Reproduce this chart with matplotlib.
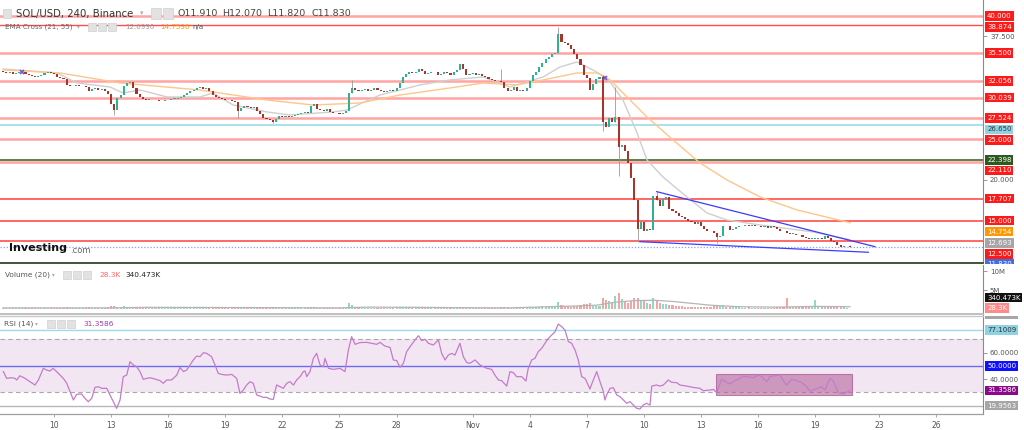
import matplotlib.pyplot as plt
from matplotlib.patches import Rectangle
from matplotlib.transforms import Bbox, TransformedBbox

plt.rcParams['font.family'] = ['DejaVu Sans']

W, H = 1024, 430

# ---------------- data ----------------
# 4h bars, first bar Oct 7 08:00. x axis in days, Oct 1 00:00 = 0
first_bar_day = 6 + 8 / 24
first_open = 33.3
closes = [
    33.2, 33.0, 33.1, 32.9,                # Oct 7
    33.0, 33.2, 33.1, 32.9, 32.8, 32.7,    # Oct 8
    32.6, 32.7, 32.8, 33.0, 33.1, 33.0,    # Oct 9
    32.9, 32.6, 32.4, 32.3, 31.6, 31.4,    # Oct 10
    31.5, 31.6, 31.4, 31.5, 31.3, 30.8,    # Oct 11
    31.1, 31.2, 31.0, 31.1, 30.9, 30.5,    # Oct 12
    29.2, 28.5, 30.0, 30.4, 31.5, 31.8,    # Oct 13
    31.9, 31.2, 30.5, 30.1, 29.9, 29.8,    # Oct 14
    29.8, 29.7, 29.7, 29.6, 29.6, 29.7,    # Oct 15
    29.8, 29.9, 29.9, 30.0, 30.1, 30.3,    # Oct 16
    30.6, 30.8, 31.0, 31.2, 31.3, 31.1,    # Oct 17
    31.2, 30.9, 30.3, 30.1, 30.0, 29.9,    # Oct 18
    29.8, 29.7, 29.6, 29.5, 28.4, 28.8,    # Oct 19
    29.0, 28.9, 28.8, 28.9, 28.4, 28.0,    # Oct 20
    27.6, 27.4, 27.3, 27.1, 27.4, 27.8,    # Oct 21
    27.7, 27.8, 27.7, 27.8, 27.9, 28.0,    # Oct 22
    28.1, 28.3, 28.2, 29.0, 29.3, 28.6,    # Oct 23
    28.5, 28.4, 28.6, 28.3, 28.2, 28.1,    # Oct 24
    28.0, 28.2, 28.4, 30.6, 31.2, 31.0,    # Oct 25
    30.9, 31.0, 31.1, 30.9, 31.0, 31.2,    # Oct 26
    31.0, 30.8, 30.7, 30.9, 31.0, 30.8,    # Oct 27
    31.2, 31.8, 32.5, 32.9, 33.1, 33.0,    # Oct 28
    33.2, 33.5, 33.3, 32.9, 33.0, 33.2,    # Oct 29
    33.1, 32.8, 32.9, 33.1, 33.0, 32.8,    # Oct 30
    33.1, 33.4, 34.1, 33.5, 32.8, 32.9,    # Oct 31
    33.0, 32.8, 32.9, 32.7, 32.5, 32.3,    # Nov 1
    32.2, 32.0, 32.1, 31.9, 31.2, 30.9,    # Nov 2
    31.0, 31.3, 30.8, 31.0, 30.9, 31.2,    # Nov 3
    32.0, 32.8, 33.2, 33.8, 34.3, 34.7,    # Nov 4
    35.0, 35.3, 35.5, 37.8, 36.8, 36.7,    # Nov 5
    36.5, 36.0, 35.4, 34.8, 34.0, 32.8,    # Nov 6
    32.4, 31.0, 31.7, 32.3, 32.5, 27.0,    # Nov 7
    26.5, 27.6, 27.0, 27.7, 24.0, 24.3,    # Nov 8
    23.5, 22.0, 20.2, 17.5, 14.0, 14.8,    # Nov 9
    13.8, 14.0, 13.9, 18.0, 17.5, 16.8,    # Nov 10
    17.6, 17.9, 16.4, 16.2, 15.9, 15.6,    # Nov 11
    15.4, 15.2, 15.0, 14.9, 14.6, 14.8,    # Nov 12
    14.3, 14.0, 13.8, 13.7, 13.5, 13.0,    # Nov 13
    13.1, 14.4, 14.3, 13.9, 14.0, 14.2,    # Nov 14
    14.3, 14.4, 14.5, 14.4, 14.5, 14.4,    # Nov 15
    14.3, 14.2, 14.3, 14.1, 14.3, 14.2,    # Nov 16
    14.0, 13.8, 13.7, 13.5, 13.4, 13.4,    # Nov 17
    13.3, 13.2, 13.0, 12.9, 12.8, 12.8,    # Nov 18
    12.8, 12.9, 12.8, 13.1, 12.9, 12.5,    # Nov 19
    12.4, 12.0, 11.8, 11.9, 11.91, 11.83,  # Nov 20
]
# wick extremes that stick out of the bodies (bar index -> price)
wick_high = {110: 32.2, 157: 33.5, 175: 38.7, 193: 31.3, 206: 18.5, 267: 12.07}
wick_low = {35: 27.9, 74: 27.6, 85: 26.9, 189: 26.0, 194: 20.5, 200: 12.4,
            225: 12.3, 267: 11.82}

volume_m = [
    0.3, 0.2, 0.2, 0.3,
    0.2, 0.3, 0.2, 0.2, 0.3, 0.2,
    0.2, 0.2, 0.3, 0.3, 0.2, 0.2,
    0.2, 0.3, 0.3, 0.2, 0.5, 0.3,
    0.2, 0.2, 0.3, 0.2, 0.3, 0.4,
    0.3, 0.2, 0.2, 0.2, 0.3, 0.4,
    0.8, 0.9, 0.6, 0.5, 0.7, 0.5,
    0.4, 0.4, 0.5, 0.3, 0.3, 0.2,
    0.2, 0.2, 0.2, 0.3, 0.2, 0.2,
    0.2, 0.2, 0.2, 0.2, 0.3, 0.3,
    0.3, 0.3, 0.3, 0.3, 0.2, 0.3,
    0.2, 0.3, 0.4, 0.3, 0.2, 0.2,
    0.2, 0.2, 0.2, 0.3, 0.6, 0.4,
    0.3, 0.2, 0.2, 0.2, 0.3, 0.4,
    0.4, 0.3, 0.3, 0.4, 0.3, 0.3,
    0.2, 0.2, 0.2, 0.2, 0.2, 0.2,
    0.2, 0.3, 0.2, 0.5, 0.4, 0.3,
    0.2, 0.2, 0.2, 0.2, 0.2, 0.2,
    0.2, 0.2, 0.3, 1.6, 1.0, 0.6,
    0.4, 0.3, 0.3, 0.3, 0.3, 0.3,
    0.3, 0.3, 0.3, 0.2, 0.3, 0.3,
    0.4, 0.5, 0.6, 0.5, 0.4, 0.3,
    0.4, 0.5, 0.4, 0.3, 0.3, 0.3,
    0.3, 0.3, 0.2, 0.3, 0.2, 0.2,
    0.3, 0.4, 0.6, 0.4, 0.3, 0.2,
    0.3, 0.2, 0.2, 0.2, 0.2, 0.3,
    0.2, 0.2, 0.2, 0.5, 0.4, 0.4,
    0.3, 0.3, 0.3, 0.2, 0.2, 0.3,
    0.5, 0.6, 0.5, 0.6, 0.7, 0.6,
    0.7, 0.6, 0.8, 1.8, 1.0, 0.7,
    0.7, 0.6, 0.8, 0.9, 1.0, 1.4,
    1.2, 1.5, 0.9, 0.8, 0.7, 3.0,
    2.5, 2.0, 1.6, 3.3, 4.2, 2.6,
    1.8, 1.6, 2.2, 2.8, 3.0, 2.0,
    2.4, 1.6, 1.4, 3.0, 2.2, 1.5,
    1.4, 1.2, 1.1, 1.0, 0.8, 0.8,
    0.7, 0.6, 0.6, 0.5, 0.6, 0.5,
    0.6, 0.5, 0.5, 0.6, 0.7, 0.9,
    0.7, 1.0, 0.6, 0.5, 0.4, 0.4,
    0.4, 0.3, 0.3, 0.4, 0.3, 0.3,
    0.3, 0.3, 0.3, 0.3, 0.3, 0.3,
    0.4, 0.5, 0.4, 2.9, 0.6, 0.4,
    0.4, 0.5, 0.5, 0.4, 0.4, 0.5,
    2.5, 0.5, 0.4, 0.5, 0.4, 0.6,
    0.6, 0.8, 0.6, 0.4, 0.3, 0.0283,
]
vol_ma_day = [6.33, 12.0, 14.0, 24.0, 25.5, 28.0, 30.0, 33.0, 35.0, 36.5, 37.5,
              38.5, 39.5, 40.5, 41.5, 42.5, 43.5, 45.0, 47.0, 49.0, 50.83]
vol_ma_val = [0.3, 0.3, 0.45, 0.3, 0.5, 0.45, 0.35, 0.3, 0.6, 0.8, 1.0,
              1.8, 2.2, 2.3, 2.0, 1.5, 1.0, 0.6, 0.5, 0.7, 0.6]

ema21_day = [6.33, 9.16, 10.21, 11.94, 12.63, 13.52, 14.94, 16.67, 17.35, 18.41,
             20.19, 21.40, 23.66, 24.40, 25.08, 26.13, 28.23, 29.81, 31.54, 32.96,
             34.70, 35.59, 36.48, 37.32, 38.06, 38.90, 39.64, 40.16, 41.00, 42.26,
             43.31, 44.36, 46.10, 48.88, 50.83]
ema21_val = [33.53, 33.04, 31.82, 31.33, 30.60, 30.96, 30.11, 30.11, 30.60, 29.13,
             28.28, 27.91, 28.28, 28.52, 29.26, 30.35, 31.58, 32.19, 32.55, 31.33,
             32.55, 33.77, 34.38, 33.41, 32.43, 29.74, 25.71, 22.42, 20.34, 17.90,
             15.95, 15.09, 14.48, 13.63, 12.693]
ema55_day = [6.33, 9.32, 12.47, 16.67, 20.19, 22.61, 25.08, 27.18, 29.81, 31.54,
             33.33, 34.70, 36.48, 37.53, 38.22, 39.27, 40.16, 41.53, 42.95, 44.36,
             46.10, 48.05, 49.78, 50.83]
ema55_val = [33.41, 33.04, 31.82, 30.96, 29.74, 29.13, 29.38, 30.35, 31.21, 31.82,
             31.58, 32.19, 33.04, 33.04, 32.19, 29.74, 27.67, 24.86, 22.05, 19.98,
             17.90, 16.31, 15.34, 14.754]
cross_day = [7.30, 37.95]
cross_val = [33.2, 32.4]

# falling wedge drawn on the chart
wedge_top_day, wedge_top_val = [40.67, 52.14], [18.55, 11.83]
wedge_bot_day, wedge_bot_val = [39.79, 51.79], [12.44, 11.15]

rsi_day = [6.34, 6.51, 6.77, 6.95, 7.04, 7.21, 7.48, 7.74, 8.00, 8.18, 8.44, 8.61, 8.79,
           8.96, 9.23, 9.49, 9.67, 9.84, 10.02, 10.19, 10.45, 10.63, 10.80, 10.98,
           11.15, 11.33, 11.50, 11.77, 11.94, 12.12, 12.29, 12.47, 12.64, 12.82,
           12.99, 13.17, 13.34, 13.52, 13.69, 13.87, 14.04, 14.31, 14.57, 14.74,
           14.92, 15.18, 15.45, 15.62, 15.80, 15.97, 16.15, 16.32, 16.50, 16.67,
           16.85, 17.02, 17.28, 17.46, 17.63, 17.81, 18.07, 18.34, 18.60, 18.77,
           18.95, 19.12, 19.30, 19.47, 19.65, 19.82, 20.00, 20.17, 20.35, 20.53,
           20.61, 20.70, 20.88, 21.05, 21.23, 21.40, 21.58, 21.75, 21.93, 22.10,
           22.19, 22.28, 22.45, 22.63, 22.80, 22.98, 23.15, 23.24, 23.42, 23.68,
           24.03, 24.29, 24.47, 24.64, 24.82, 25.08, 25.43, 25.69, 25.96, 26.13,
           26.39, 26.66, 26.83, 27.01, 27.18, 27.36, 27.53, 27.71, 27.97, 28.15,
           28.32, 28.50, 28.67, 28.93, 29.20, 29.37, 29.55, 29.72, 29.90, 30.07,
           30.33, 30.51, 30.69, 30.86, 31.12, 31.39, 31.56, 31.74, 32.00, 32.17,
           32.35, 32.52, 32.79, 32.96, 33.14, 33.31, 33.58, 33.80, 33.92, 34.10,
           34.27, 34.45, 34.63, 34.80, 34.98, 35.15, 35.33, 35.50, 35.68, 35.85,
           36.03, 36.20, 36.38, 36.55, 36.73, 36.90, 36.99, 37.16, 37.34, 37.52,
           37.69, 37.87, 37.95, 38.04, 38.22, 38.39, 38.57, 38.74, 38.92, 39.09,
           39.27, 39.44, 39.62, 39.79, 39.97, 40.14, 40.32, 40.41, 40.67, 40.84,
           41.02, 41.28, 41.46, 41.72, 41.89, 42.24, 42.59, 42.94, 43.12, 43.47,
           43.65, 43.82, 44.08, 44.35, 44.52, 44.78, 45.05, 45.22, 45.40, 45.75,
           46.01, 46.19, 46.45, 46.62, 46.89, 47.15, 47.41, 47.50, 47.76, 48.03,
           48.29, 48.46, 48.73, 48.99, 49.34, 49.51, 49.78, 49.95, 50.21, 50.48,
           50.65, 50.83]
rsi_val = [45.6, 40.5, 41.0, 40.5, 39.3, 42.5, 40.5, 38.0, 35.5, 39.3, 48.1, 46.8, 46.1,
           48.1, 44.3, 40.5, 36.8, 30.5, 24.2, 28.5, 28.7, 25.4, 22.9, 25.4,
           33.7, 34.2, 33.0, 33.0, 28.0, 22.9, 17.9, 24.2, 41.8, 43.0,
           53.1, 50.6, 49.3, 45.6, 39.8, 40.5, 41.0, 40.0, 38.8, 36.8,
           39.3, 39.3, 43.0, 48.8, 45.6, 46.8, 50.6, 54.4, 57.4, 56.9,
           59.9, 59.4, 56.9, 50.6, 44.3, 43.5, 43.0, 43.5, 40.5, 29.2,
           31.7, 35.5, 38.0, 36.8, 28.0, 27.2, 26.2, 26.2, 24.9, 24.7,
           30.5, 35.5, 34.2, 33.0, 36.8, 38.0, 35.5, 39.3, 41.8, 45.6,
           46.1, 41.8, 45.6, 55.6, 59.4, 50.6, 49.3, 55.6, 48.1, 47.3,
           48.1, 45.6, 61.9, 72.0, 66.2, 67.5, 67.7, 67.0, 66.2, 67.7,
           64.9, 63.9, 54.4, 53.9, 48.8, 51.9, 60.7, 64.4, 69.5, 72.7,
           69.0, 70.0, 67.0, 65.7, 69.5, 59.4, 54.4, 58.1, 59.4, 58.1,
           67.0, 56.9, 52.4, 51.9, 54.4, 50.6, 49.3, 48.1, 47.3, 43.0,
           39.3, 38.8, 34.7, 45.6, 44.8, 41.8, 41.8, 38.5, 48.1, 54.4,
           55.6, 60.7, 63.2, 67.0, 70.7, 73.2, 75.8, 81.5, 79.5, 77.0,
           68.2, 67.0, 61.9, 54.4, 41.8, 40.5, 38.0, 32.5, 39.3, 45.6,
           38.0, 30.5, 24.2, 28.0, 33.0, 33.5, 28.0, 26.7, 24.2, 21.7,
           22.9, 20.4, 17.9, 17.4, 20.4, 21.7, 20.4, 34.7, 35.5, 34.7,
           35.5, 39.3, 37.5, 37.3, 35.5, 34.7, 33.7, 33.0, 31.2, 31.7,
           32.2, 29.7, 39.8, 37.5, 36.3, 38.8, 40.5, 42.3, 41.8, 41.0,
           43.0, 41.8, 38.0, 41.8, 42.5, 43.0, 36.8, 35.5, 39.8, 38.8,
           37.3, 35.5, 31.0, 32.2, 34.2, 31.7, 40.5, 38.5, 29.7, 28.7,
           30.0, 31.3586]
rsi_box_day = [43.79, 50.93]
rsi_box_val = [28.2, 43.8]

# horizontal levels: (price, line colour, line width, label bg, label text colour, label shift px)
levels = [
    (40.000, '#ffa3a3', 1.8, '#ff1a1a', 'white', 0),
    (38.874, '#ff4d4d', 1.0, '#ff1a1a', 'white', 2),
    (35.500, '#ffa3a3', 1.8, '#ff1a1a', 'white', 0),
    (32.056, '#ffa3a3', 1.8, '#ff1a1a', 'white', 0),
    (30.039, '#ffa3a3', 1.8, '#ff1a1a', 'white', 0),
    (27.524, '#ffa3a3', 1.8, '#ff1a1a', 'white', 0),
    (26.650, '#9adbe8', 1.2, '#8fd3e3', '#333333', 4),
    (25.000, '#ffa3a3', 1.8, '#ff1a1a', 'white', 1),
    (22.398, '#3f6b2f', 1.2, '#2f5a1f', 'white', 0),
    (22.110, '#ffa3a3', 1.8, '#ff1a1a', 'white', 8),
    (17.707, '#ff4d4d', 1.2, '#ff1a1a', 'white', 0),
    (15.000, '#ff4d4d', 1.2, '#ff1a1a', 'white', 0),
    (12.500, '#ff4d4d', 1.2, '#ff1a1a', 'white', 13),
]
last_close = 11.83

date_ticks = [9, 12, 15, 18, 21, 24, 27, 31, 34, 37, 40, 43, 46, 49, 52.35, 55.35]
date_labels = ['10', '13', '16', '19', '22', '25', '28', 'Nov', '4', '7', '10', '13',
               '16', '19', '23', '26']

# ---------------- figure ----------------
fig = plt.figure(figsize=(W / 100, H / 100), dpi=100)


def px_axes(top, bottom):
    return fig.add_axes([0, 1 - bottom / H, 983 / W, (bottom - top) / H])


ax_p = px_axes(0, 262)
ax_v = px_axes(265, 313)
ax_r = px_axes(315, 414)

x0 = 6.162
x1 = x0 + 983 / 19.03
for ax in (ax_p, ax_v, ax_r):
    ax.set_xlim(x0, x1)
    for s in ('top', 'left', 'bottom'):
        ax.spines[s].set_visible(False)
    ax.spines['right'].set_color('#8a8a8a')
    ax.yaxis.tick_right()
    ax.tick_params(axis='y', length=3, width=0.6, color='#888888', labelsize=5,
                   labelcolor='#555555', pad=2)
    ax.set_xticks([])

ax_p.set_ylim(9.96, 41.95)
ax_v.set_ylim(-1.05, 11.58)
ax_r.set_ylim(13.62, 88.34)

# candles
opens = [first_open] + closes[:-1]
xs = [first_bar_day + i / 6 for i in range(len(closes))]
up_c, dn_c = '#2db394', '#a8352c'
for i, (x, o, c) in enumerate(zip(xs, opens, closes)):
    hi = wick_high.get(i, max(o, c))
    lo = wick_low.get(i, min(o, c))
    col = up_c if c >= o else dn_c
    if hi > max(o, c) or lo < min(o, c):
        ax_p.vlines(x, lo, hi, color='#9a9a9a', lw=0.6, zorder=3)
    h = c - o if abs(c - o) > 0.05 else 0.05
    ax_p.bar(x, h, bottom=o, width=0.11, color=col, lw=0, zorder=4)

ax_p.plot(ema21_day, ema21_val, color='#cfcfcf', lw=1.0, zorder=2)
ax_p.plot(ema55_day, ema55_val, color='#ffc68a', lw=1.0, zorder=2)
ax_p.plot(cross_day, cross_val, ls='none', marker='x', ms=3.5, mew=1.2,
          color='#6a5acd', zorder=5)

for price, lc, lw, fc, tc, dy in levels:
    ax_p.axhline(price, color=lc, lw=lw, zorder=1)
ax_p.axhline(last_close, color='#8c9eff', lw=0.9, ls=(0, (1, 1.5)), zorder=1)

ax_p.plot(wedge_top_day, wedge_top_val, color='#3c3cff', lw=0.9, zorder=6)
ax_p.plot(wedge_bot_day, wedge_bot_val, color='#3c3cff', lw=0.9, zorder=6)

ax_p.set_yticks([37.5, 20.0])
ax_p.set_yticklabels(['37.500', '20.000'])


def rlabel(ax, y, text, fc, tc='white', dy=0, clip_top=None, clip_bottom=None):
    t = ax.annotate(text, xy=(1, y), xycoords=ax.get_yaxis_transform(),
                    xytext=(3, -dy * 0.72), textcoords='offset points',
                    ha='left', va='center', fontsize=5, color=tc,
                    annotation_clip=False, zorder=10,
                    bbox=dict(boxstyle='square,pad=0.25', fc=fc, ec='none'))
    if clip_top is not None:
        bb = TransformedBbox(Bbox([[0, 1 - clip_bottom / H], [1, 1 - clip_top / H]]),
                             fig.transFigure)
        t.set_clip_box(bb)
        t.set_clip_on(True)
    return t


for price, lc, lw, fc, tc, dy in levels:
    rlabel(ax_p, price, f'{price:.3f}', fc, tc, dy)
rlabel(ax_p, 14.754, '14.754', '#ff9800', 'white', 9)
rlabel(ax_p, 12.693, '12.693', '#a6a6a6', 'white', 3.5)
rlabel(ax_p, last_close, '11.830', '#3f6fe0', 'white', 17, clip_top=0, clip_bottom=263.5)

# panel separators
fig.add_artist(plt.Line2D([0, 983 / W], [1 - 262.5 / H] * 2, color='#2f4a26', lw=1.3))
fig.add_artist(plt.Line2D([0, 983 / W], [1 - 313.5 / H] * 2, color='#b5b5b5', lw=1.2))
fig.add_artist(plt.Line2D([0, 983 / W], [1 - 315.5 / H] * 2, color='#c8c8c8', lw=1.0))
fig.add_artist(plt.Line2D([0, 983 / W], [1 - 414 / H] * 2, color='#a0a0a0', lw=0.9))

# volume
vcols = ['#8fdcc6' if c >= o else '#f5a3a3' for o, c in zip(opens, closes)]
ax_v.bar(xs, volume_m, width=0.11, color=vcols, lw=0, zorder=2)
ax_v.plot(vol_ma_day, vol_ma_val, color='#b5b5b5', lw=0.9, zorder=3)
ax_v.set_yticks([10, 5])
ax_v.set_yticklabels(['10M', '5M'])
rlabel(ax_v, 3.0, '340.473K', '#111111', 'white', 0)
rlabel(ax_v, 0.0283, '28.3K', '#ff8a8a', 'white', -1)

# rsi
ax_r.axhspan(30, 70, color='#f3e6f3', lw=0, zorder=0)
ax_r.axhline(70, color='#a8a8a8', lw=0.8, ls=(0, (4, 3)), zorder=1)
ax_r.axhline(30, color='#a8a8a8', lw=0.8, ls=(0, (4, 3)), zorder=1)
ax_r.axhline(50, color='#6b6bf0', lw=1.0, zorder=1)
ax_r.axhline(77.1009, color='#9adbe8', lw=1.0, zorder=1)
ax_r.axhline(19.9563, color='#b8b8b8', lw=1.0, zorder=1)
ax_r.add_patch(Rectangle((rsi_box_day[0], rsi_box_val[0]),
                         rsi_box_day[1] - rsi_box_day[0], rsi_box_val[1] - rsi_box_val[0],
                         fc='#b5649a', ec='#a0407f', lw=0.8, alpha=0.6, zorder=2))
ax_r.plot(rsi_day, rsi_val, color='#c47bc9', lw=0.9, zorder=3)
ax_r.set_yticks([60, 40])
ax_r.set_yticklabels(['60.0000', '40.0000'])
rlabel(ax_r, 89.0884, '89.0884', '#a6a6a6', 'white', 0, clip_top=315.5, clip_bottom=420)
rlabel(ax_r, 77.1009, '77.1009', '#8fd3e3', '#333333', 0)
rlabel(ax_r, 50.0, '50.0000', '#1010ff', 'white', 0)
rlabel(ax_r, 31.3586, '31.3586', '#8b0a8b', 'white', 0)
rlabel(ax_r, 19.9563, '19.9563', '#a6a6a6', 'white', 0)

ax_r.set_xticks(date_ticks)
ax_r.set_xticklabels(date_labels)
ax_r.tick_params(axis='x', length=2, width=0.6, color='#999999', labelsize=5.5,
                 labelcolor='#555555', pad=3)

# headers
def ftext(x, y, s, **kw):
    fig.text(x / W, 1 - y / H, s, va='center', ha='left', **kw)


def icons(x, y, n, size=9, gap=2):
    for k in range(n):
        fig.add_artist(Rectangle(((x + k * (size + gap)) / W, 1 - (y + size / 2) / H),
                                 size / W, size / H, transform=fig.transFigure,
                                 fc='#e2e2e2', ec='#d0d0d0', lw=0.5))


icons(3, 13.5, 1, size=8)
ftext(16, 13.5, 'SOL/USD, 240, Binance', fontsize=7.3, color='#333333')
ftext(140, 13.5, '▾', fontsize=5, color='#aaaaaa')
icons(151, 13.5, 2, size=10)
for xx, s in zip([178, 222, 267, 312], ['O11.910', 'H12.070', 'L11.820', 'C11.830']):
    ftext(xx, 13.5, s, fontsize=6.8, color='#444444')

ftext(5, 27, 'EMA Cross (21, 55)', fontsize=5.1, color='#666666')
ftext(77, 27, '▾', fontsize=4, color='#aaaaaa')
icons(88, 27, 3, size=8)
ftext(125, 27, '12.6930', fontsize=5.1, color='#999999')
ftext(160, 27, '14.7536', fontsize=5.1, color='#ff9800')
ftext(192, 27, 'n/a', fontsize=5.1, color='#555555')

ftext(9, 248, 'Investing', fontsize=8.0, color='#111111', fontweight='bold')
ftext(70, 250, '.com', fontsize=6.0, color='#666666')

ftext(5, 275, 'Volume (20)', fontsize=5.3, color='#555555')
ftext(52, 275, '▾', fontsize=4, color='#aaaaaa')
icons(63, 275, 3, size=8)
ftext(99, 275, '28.3K', fontsize=5.3, color='#ff6666')
ftext(125, 275, '340.473K', fontsize=5.3, color='#222222')

ftext(4, 324, 'RSI (14)', fontsize=5.3, color='#555555')
ftext(35, 324, '▾', fontsize=4, color='#aaaaaa')
icons(47, 324, 3, size=8)
ftext(83, 324, '31.3586', fontsize=5.3, color='#a03ca6')

fig.savefig('out.png', dpi=100, facecolor='white')
